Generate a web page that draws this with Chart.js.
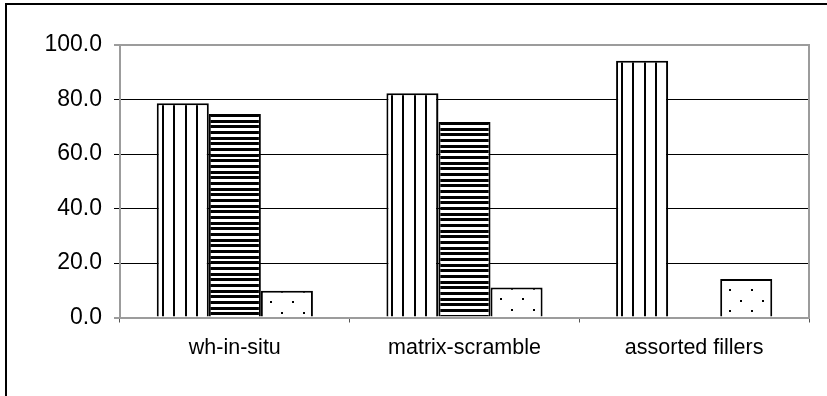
<!DOCTYPE html>
<html>
<head>
<meta charset="utf-8">
<script src="https://cdn.jsdelivr.net/npm/chart.js@4/dist/chart.umd.min.js"></script>
<style>
  html, body { margin: 0; padding: 0; background: #ffffff; }
  #wrap { width: 827px; height: 396px; }
</style>
</head>
<body>
<div id="wrap"><canvas id="c" width="827" height="396"></canvas></div>
<script>
// Categories and the three series (percentages)
const categories = ['wh-in-situ', 'matrix-scramble', 'assorted fillers'];
const verticalSeries = [78.6, 82.3, 94.2];
const horizontalSeries = [74.7, 71.7, null];
const dottedSeries = [9.8, 11.0, 14.1];
const yTickValues = [0, 20, 40, 60, 80, 100];

const AXIS_GREY = '#9c9c9c';
const CAT_PCT = 0.68;
const FONT = "'Liberation Sans', Arial, sans-serif";

// Pattern tiles
function makeTile(w, h, draw) {
  const cv = document.createElement('canvas');
  cv.width = w; cv.height = h;
  const g = cv.getContext('2d');
  g.fillStyle = '#ffffff';
  g.fillRect(0, 0, w, h);
  g.fillStyle = '#000000';
  draw(g);
  return cv;
}
const vTile = makeTile(34, 4, g => { [5, 16, 28].forEach(x => g.fillRect(x, 0, 2, 4)); });
const hTile = makeTile(4, 17, g => { [0, 6, 11].forEach(y => g.fillRect(0, y, 4, 3)); });
const dTile = makeTile(22, 21, g => { g.fillRect(9, 10, 2, 2); g.fillRect(20, 0, 2, 2); });

// Pattern anchored (on whole pixels) to the top-left corner of each bar
function patternFor(tile, dsIndex) {
  return function (c) {
    const chart = c.chart;
    if (c.type !== 'data' || !chart.chartArea || !chart.scales.x) return '#ffffff';
    const xs = chart.scales.x, ys = chart.scales.y;
    const cw = (xs.right - xs.left) / categories.length;
    const gw = cw * CAT_PCT;
    const left = Math.round(xs.getPixelForValue(c.dataIndex) - gw / 2 + dsIndex * gw / 3);
    const top = Math.round(ys.getPixelForValue(c.raw));
    const p = chart.ctx.createPattern(tile, 'repeat');
    p.setTransform(new DOMMatrix([1, 0, 0, 1, left, top]));
    return p;
  };
}

// Outer frame and right edge of the plot area
const framePlugin = {
  id: 'frame',
  afterDraw(chart) {
    const ctx = chart.ctx, a = chart.chartArea;
    ctx.save();
    ctx.strokeStyle = AXIS_GREY;
    ctx.lineWidth = 2;
    ctx.beginPath();
    ctx.moveTo(a.right, a.top - 1);
    ctx.lineTo(a.right, a.bottom + 1);
    ctx.stroke();
    ctx.fillStyle = '#000000';
    ctx.fillRect(5, 3, chart.width - 5, 2);
    ctx.fillRect(5, 3, 2, chart.height - 3);
    ctx.restore();
  }
};

const edgeColor = c => (c.tick && (c.tick.value === 0 || c.tick.value === 100)) ? AXIS_GREY : '#000000';
const edgeWidth = c => (c.tick && (c.tick.value === 0 || c.tick.value === 100)) ? 2 : 1;

new Chart(document.getElementById('c'), {
  type: 'bar',
  data: {
    labels: categories,
    datasets: [
      { data: verticalSeries, backgroundColor: patternFor(vTile, 0) },
      { data: horizontalSeries, backgroundColor: patternFor(hTile, 1) },
      { data: dottedSeries, backgroundColor: patternFor(dTile, 2) }
    ].map(d => Object.assign(d, {
      borderColor: '#000000',
      borderWidth: 2,
      borderSkipped: 'bottom',
      categoryPercentage: CAT_PCT,
      barPercentage: 1
    }))
  },
  options: {
    responsive: false,
    animation: false,
    devicePixelRatio: 1,
    layout: { padding: { top: 45, right: 18, left: 0, bottom: 0 } },
    plugins: { legend: { display: false }, tooltip: { enabled: false } },
    scales: {
      x: {
        afterFit: s => { s.height = 78.5; },
        grid: { display: true, drawOnChartArea: false, drawTicks: true, tickLength: 5, color: '#555555', lineWidth: 1 },
        border: { display: true, color: AXIS_GREY, width: 2 },
        ticks: { color: '#000000', padding: 13, font: { family: FONT, size: 21.5 } }
      },
      y: {
        min: 0, max: 100,
        afterFit: s => { s.width = 120; },
        afterBuildTicks: s => { s.ticks = yTickValues.map(v => ({ value: v })); },
        grid: { color: edgeColor, lineWidth: edgeWidth, tickColor: edgeColor, tickLength: 6 },
        border: { display: true, color: AXIS_GREY, width: 2 },
        ticks: { color: '#000000', padding: 12, font: { family: FONT, size: 23 }, callback: v => Number(v).toFixed(1) }
      }
    }
  },
  plugins: [framePlugin]
});
</script>
</body>
</html>
